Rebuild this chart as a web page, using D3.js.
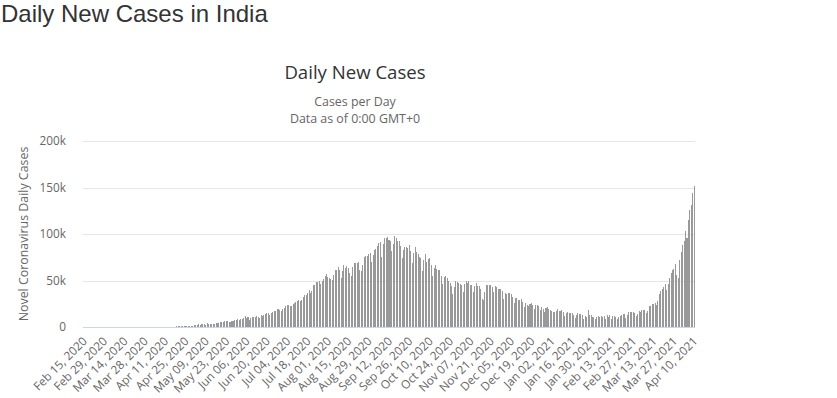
<!DOCTYPE html>
<html>
<head>
<meta charset="utf-8">
<script src="https://d3js.org/d3.v7.min.js"></script>
<style>
  body { margin: 0; background: #fff; }
  svg text { font-family: "Open Sans", sans-serif; }
</style>
</head>
<body>
<div id="viz"></div>
<script>
// Daily new cases, India, Feb 15 2020 .. Apr 10 2021
const firstDay = "2020-02-15";
const early2020 = [0,0,0,0,0,0,0,0,0,0,0,0,0,0,0,0]; // Feb 15 .. Mar 1
const mar2020 = [2,1,22,2,1,3,5,4,12,6,11,9,20,11,6,23,14,38,50,86,66,103,37,121,70,160,100,112,227,146];
const apr2020 = [424,486,560,579,609,484,573,565,813,871,854,758,960,850,886,1061,922,1071,1380,1239,1537,1292,1667,1408,1835,1607,1561,1873,1738,1801];
const may2020 = [2396,2564,2952,3656,2971,3602,3344,3339,3175,4311,3592,3562,3726,3991,3808,4794,5049,4628,6147,5553,6198,6568,6629,7111,6414,5843,7293,7300,8105,8336,8789];
const jun2020 = [7723,8821,9633,9889,12471,10438,10864,8442,9981,10956,11158,11302,12032,11502,10667,13103,12881,13586,14740,15918,15151,13560,15656,16868,18205,18255,20131,19459,18339,18256];
const jul2020 = [19429,20903,22718,24018,24015,23135,22704,25561,26506,27761,28637,29108,28178,29917,32682,35468,34820,37411,40243,37148,39170,45599,45720,49310,48611,49981,46484,49632,52123,55078,57486];
const aug2020 = [54735,52972,52050,51282,56626,62170,61455,65156,62117,53016,61252,67066,64142,65609,63986,58108,55018,64572,69672,68900,69876,70067,61749,60975,67151,75760,77266,76665,79457,79704,69921];
const sep2020 = [78357,83341,83883,87115,90633,91723,75809,89706,95735,96551,97654,94372,93215,81911,90123,97894,96424,93337,92605,87382,75083,83347,86508,86052,85362,89129,82170,69671,80472,86821];
const oct2020 = [81484,79476,75829,74442,61267,72049,78524,70496,73272,74383,66732,55342,63509,67708,63371,62212,61871,55722,46790,54044,55839,53370,50129,48268,45149,36469,43893,49881,48648,48268,46964];
const nov2020 = [45231,38310,46253,50210,47638,50357,45674,45903,38073,44281,47905,44879,44684,41100,30548,29163,38617,45576,45882,46232,45209,44059,37975,44376,43082,41322,41810,41810,38772,31118];
const dec2020 = [36604,35551,36594,36652,36011,32981,26567,32080,31521,29398,30006,30254,27071,22065,26382,24010,22890,25153,26624,24337,19556,23950,24712,23067,18732,22273,20021,16432,20549,21822,20036];
const jan2021 = [19078,18177,16504,16375,18088,20346,18139,18222,18645,16311,12584,15968,16946,15590,15158,15144,13788,10064,13823,15223,14545,14256,13203,9102,12689,11666,18855,13083,13052,11427,11629];
const feb2021 = [8635,11039,12899,11713,12408,11713,11831,9110,12923,11067,12923,9309,12143,12194,11649,9121,11610,12881,13193,13993,14264,10584,13742,16738,16577,16488,16752,15510];
const mar2021 = [12286,14989,17407,16838,18327,18711,18599,15388,17921,22854,23285,24882,25320,26291,24492,28903,35871,39726,40953,43846,46951,40715,47262,53476,59118,62258,62714,68020,56211,53480,72330];
const apr2021 = [81466,89019,92998,103793,96557,115269,126265,131878,144829,152565];

const cases = [].concat(early2020, mar2020, apr2020, may2020, jun2020, jul2020, aug2020,
  sep2020, oct2020, nov2020, dec2020, jan2021, feb2021, mar2021, apr2021);
const yTicks = [0, 50000, 100000, 150000, 200000];
const labelEvery = 14;

const start = d3.timeParse("%Y-%m-%d")(firstDay);
const days = cases.map((v, i) => d3.timeDay.offset(start, i));
const fmt = d3.timeFormat("%b %d, %Y");

const W = 837, H = 398;
const plotLeft = 83, plotRight = 695, plotTop = 141, plotBottom = 327;

const svg = d3.select("#viz").append("svg")
    .attr("width", W)
    .attr("height", H);

// page heading
svg.append("text")
    .attr("x", 1)
    .attr("y", 22)
    .attr("fill", "#333")
    .style("font-family", "'Liberation Sans', Arial, sans-serif")
    .style("font-size", "24px")
    .text("Daily New Cases in India");

svg.append("text")
    .attr("x", 355).attr("y", 79)
    .attr("text-anchor", "middle")
    .attr("fill", "#333")
    .style("font-size", "18.6px")
    .text("Daily New Cases");

svg.append("text")
    .attr("x", 355).attr("y", 106)
    .attr("text-anchor", "middle")
    .attr("fill", "#666")
    .style("font-size", "12.4px")
    .text("Cases per Day");

svg.append("text")
    .attr("x", 355).attr("y", 123)
    .attr("text-anchor", "middle")
    .attr("fill", "#666")
    .style("font-size", "12.4px")
    .text("Data as of 0:00 GMT+0");

const x = d3.scaleBand()
    .domain(d3.range(cases.length))
    .range([plotLeft, plotRight]);

const y = d3.scaleLinear()
    .domain([0, 200000])
    .range([plotBottom, plotTop]);

// grid lines
svg.append("g")
    .selectAll("line")
    .data(yTicks)
    .enter()
    .append("line")
    .attr("x1", plotLeft)
    .attr("x2", plotRight)
    .attr("y1", d => Math.round(y(d)) + 0.5)
    .attr("y2", d => Math.round(y(d)) + 0.5)
    .attr("stroke", d => d === 0 ? "none" : "#e6e6e6");

// y axis labels
const yAxis = svg.append("g")
    .attr("transform", `translate(${plotLeft - 14},0)`)
    .call(d3.axisLeft(y).tickValues(yTicks).tickSize(0)
        .tickFormat(d => d === 0 ? "0" : (d / 1000) + "k"));
yAxis.select(".domain").remove();
yAxis.selectAll("text")
    .attr("fill", "#666")
    .style("font-size", "11.8px");

svg.append("text")
    .attr("transform", `translate(28,${(plotTop + plotBottom) / 2}) rotate(-90)`)
    .attr("text-anchor", "middle")
    .attr("fill", "#666")
    .style("font-size", "12.4px")
    .text("Novel Coronavirus Daily Cases");

// bars (whole-pixel heights, like the original renderer)
const bw = Math.max(1, x.bandwidth() * 0.7);
const barH = d => Math.floor(plotBottom - y(d));
svg.append("g")
    .attr("shape-rendering", "crispEdges")
    .selectAll("rect")
    .data(cases)
    .enter()
    .append("rect")
    .attr("x", (d, i) => x(i) + x.bandwidth() / 2 - bw / 2)
    .attr("y", d => plotBottom - barH(d))
    .attr("width", bw)
    .attr("height", d => barH(d))
    .attr("fill", "#999");

// x axis
svg.append("line")
    .attr("x1", plotLeft).attr("x2", plotRight)
    .attr("y1", plotBottom + 0.5).attr("y2", plotBottom + 0.5)
    .attr("stroke", "#ccd6eb");

const labelIdx = d3.range(0, cases.length, labelEvery);
svg.append("g")
    .selectAll("text")
    .data(labelIdx)
    .enter()
    .append("text")
    .attr("transform", i => `translate(${x(i) + x.bandwidth() / 2 + 4},${plotBottom + 15}) rotate(-45)`)
    .attr("text-anchor", "end")
    .attr("fill", "#666")
    .style("font-size", "11.8px")
    .text(i => fmt(days[i]));
</script>
</body>
</html>
